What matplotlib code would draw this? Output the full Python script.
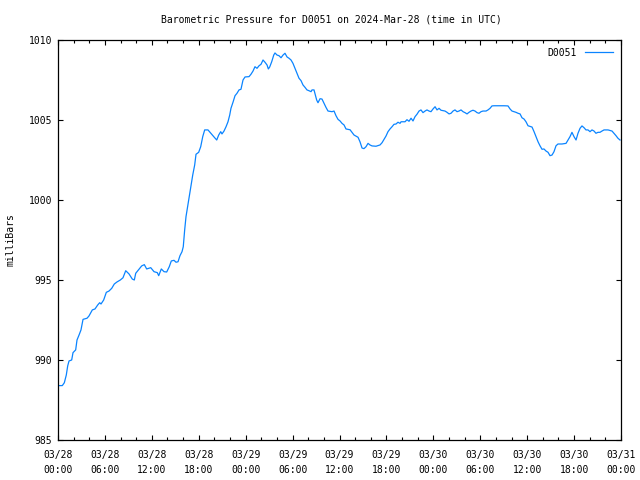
import matplotlib
matplotlib.use("Agg")
import matplotlib.pyplot as plt
import numpy as np

hours = [0.0, 0.55, 0.81, 1.06, 1.24, 1.41, 1.75, 1.92, 2.26, 2.43, 2.69, 2.94, 3.20, 3.71, 3.96,
         4.39, 4.73, 5.08, 5.33, 5.50, 5.84, 6.18, 6.52, 6.87, 7.20, 7.55, 7.97, 8.31, 8.66, 9.08,
         9.50, 9.76, 9.94, 10.36, 10.70, 11.04, 11.34, 11.86, 12.28, 12.70, 12.88, 13.21, 13.56,
         13.90, 14.23, 14.49, 14.84, 15.09, 15.35, 15.60, 15.86, 16.02, 16.20, 16.37, 16.54, 16.79,
         16.97, 17.23, 17.48, 17.65, 17.99, 18.25, 18.51, 18.76, 19.18, 19.61, 20.04, 20.30, 20.55,
         20.81, 20.97, 21.23, 21.49, 21.74, 21.96, 22.12, 22.38, 22.64, 22.89, 23.15, 23.40, 23.66,
         23.92, 24.43, 24.68, 24.94, 25.19, 25.45, 25.71, 25.96, 26.22, 26.47, 26.73, 26.90, 27.07,
         27.33, 27.59, 27.75, 28.01, 28.26, 28.52, 28.78, 29.03, 29.29, 29.54, 29.80, 30.05, 30.31,
         30.57, 30.82, 31.08, 31.33, 31.59, 31.84, 32.10, 32.36, 32.48, 32.74, 33.08, 33.25, 33.51,
         33.76, 34.02, 34.27, 34.53, 35.04, 35.30, 35.55, 35.81, 36.07, 36.32, 36.58, 36.83, 37.35,
         37.60, 37.86, 38.37, 38.62, 38.88, 39.13, 39.39, 39.65, 39.90, 40.16, 40.67, 41.18, 41.44,
         41.69, 41.95, 42.20, 42.46, 42.72, 42.97, 43.23, 43.48, 43.74, 43.87, 44.38, 44.63, 44.89,
         45.15, 45.40, 45.66, 45.91, 46.17, 46.42, 46.68, 46.94, 47.19, 47.45, 47.70, 47.96, 48.22,
         48.47, 48.73, 48.98, 49.49, 49.75, 50.01, 50.26, 50.52, 50.77, 51.03, 51.28, 51.54, 51.80,
         52.05, 52.31, 52.56, 52.82, 53.07, 53.33, 53.59, 53.84, 54.10, 54.35, 54.74, 54.99, 55.25,
         55.50, 55.76, 56.53, 57.04, 57.55, 57.81, 58.06, 58.57, 58.83, 59.09, 59.34, 59.60, 59.85,
         60.11, 60.62, 60.88, 61.13, 61.39, 61.64, 61.90, 62.15, 62.41, 62.67, 62.92, 63.18, 63.43,
         63.69, 63.94, 64.45, 64.97, 65.22, 65.48, 65.73, 65.99, 66.25, 66.50, 66.76, 67.01, 67.27,
         67.52, 67.78, 68.04, 68.29, 68.55, 68.80, 69.06, 69.31, 69.57, 69.83, 70.34, 70.85, 71.10,
         71.36, 71.61, 71.87]

pressure = [988.40, 988.40, 988.58, 989.06, 989.63, 989.94, 990.00, 990.46, 990.63, 991.25, 991.56,
            991.88, 992.54, 992.61, 992.75, 993.13, 993.19, 993.44, 993.58, 993.50, 993.75, 994.23,
            994.31, 994.48, 994.75, 994.88, 995.00, 995.14, 995.58, 995.38, 995.06, 995.00, 995.42,
            995.67, 995.88, 995.96, 995.69, 995.77, 995.52, 995.46, 995.27, 995.69, 995.52, 995.50,
            995.83, 996.19, 996.23, 996.11, 996.14, 996.52, 996.77, 997.08, 998.13, 998.96, 999.48,
            1000.21, 1000.83, 1001.56, 1002.19, 1002.86, 1002.98, 1003.33, 1003.96, 1004.38, 1004.38,
            1004.13, 1003.89, 1003.75, 1004.06, 1004.27, 1004.13, 1004.31, 1004.58, 1004.89, 1005.31,
            1005.73, 1006.11, 1006.52, 1006.67, 1006.88, 1006.92, 1007.50, 1007.69, 1007.71, 1007.86,
            1008.06, 1008.33, 1008.23, 1008.39, 1008.48, 1008.75, 1008.61, 1008.44, 1008.19, 1008.31,
            1008.64, 1009.06, 1009.19, 1009.06, 1009.02, 1008.89, 1009.06, 1009.17, 1008.94, 1008.86,
            1008.75, 1008.54, 1008.23, 1007.92, 1007.61, 1007.46, 1007.19, 1007.04, 1006.88, 1006.83,
            1006.77, 1006.88, 1006.88, 1006.25, 1006.08, 1006.33, 1006.31, 1006.04, 1005.79, 1005.56,
            1005.52, 1005.56, 1005.27, 1005.04, 1004.94, 1004.79, 1004.69, 1004.44, 1004.39, 1004.23,
            1004.06, 1003.92, 1003.64, 1003.25, 1003.21, 1003.33, 1003.54, 1003.44, 1003.38, 1003.36,
            1003.44, 1003.58, 1003.79, 1004.00, 1004.27, 1004.44, 1004.58, 1004.73, 1004.75, 1004.86,
            1004.79, 1004.89, 1004.89, 1005.02, 1004.92, 1005.11, 1004.94, 1005.21, 1005.36, 1005.56,
            1005.63, 1005.46, 1005.56, 1005.63, 1005.56, 1005.52, 1005.69, 1005.83, 1005.63, 1005.73,
            1005.61, 1005.56, 1005.48, 1005.38, 1005.42, 1005.56, 1005.63, 1005.52, 1005.56, 1005.63,
            1005.52, 1005.46, 1005.38, 1005.48, 1005.56, 1005.61, 1005.56, 1005.46, 1005.42, 1005.52,
            1005.56, 1005.56, 1005.63, 1005.73, 1005.88, 1005.89, 1005.89, 1005.89, 1005.88, 1005.69,
            1005.56, 1005.48, 1005.42, 1005.38, 1005.14, 1005.06, 1004.89, 1004.64, 1004.56, 1004.27,
            1003.96, 1003.64, 1003.39, 1003.17, 1003.19, 1003.06, 1002.98, 1002.77, 1002.81, 1003.02,
            1003.39, 1003.50, 1003.50, 1003.54, 1003.75, 1003.96, 1004.23, 1003.96, 1003.75, 1004.17,
            1004.48, 1004.63, 1004.52, 1004.38, 1004.38, 1004.27, 1004.38, 1004.31, 1004.17, 1004.23,
            1004.23, 1004.31, 1004.38, 1004.38, 1004.31, 1004.17, 1004.02, 1003.86, 1003.75]

tick_hours = [0, 6, 12, 18, 24, 30, 36, 42, 48, 54, 60, 66, 72]
tick_labels = ["03/28\n00:00", "03/28\n06:00", "03/28\n12:00", "03/28\n18:00",
               "03/29\n00:00", "03/29\n06:00", "03/29\n12:00", "03/29\n18:00",
               "03/30\n00:00", "03/30\n06:00", "03/30\n12:00", "03/30\n18:00",
               "03/31\n00:00"]
y_ticks = [985, 990, 995, 1000, 1005, 1010]
title = "Barometric Pressure for D0051 on 2024-Mar-28 (time in UTC)"
series_name = "D0051"

plt.rcParams['font.family'] = ['DejaVu Sans Mono']
plt.rcParams['font.size'] = 7

fig = plt.figure(figsize=(6.4, 4.8), dpi=100)
ax = fig.add_axes([58/640, 1-440/480, (621-58)/640, 400/480])
ax.plot(hours, pressure, color='#0a84ff', lw=0.9, label=series_name)
ax.set_xlim(0, 72)
ax.set_ylim(985, 1010)
ax.set_xticks(tick_hours)
ax.set_xticklabels(tick_labels, linespacing=1.7)
ax.set_xticks(np.arange(0, 73, 2), minor=True)
ax.set_yticks(y_ticks)
ax.set_yticklabels([str(v) for v in y_ticks])
ax.tick_params(which='major', direction='in', length=3.5, width=0.8, top=True, right=True, pad=4)
ax.tick_params(axis='x', which='major', pad=7)
ax.tick_params(which='minor', direction='in', length=2, width=0.8, top=True, right=True)
for s in ax.spines.values():
    s.set_linewidth(0.9)
ax.set_ylabel("milliBars", labelpad=10)
fig.text(331/640, 1-19/480, title, ha='center', va='center')
leg = ax.legend(loc='upper right', frameon=False, handlelength=2.9, handletextpad=0.9,
                borderaxespad=0.6, markerfirst=False, borderpad=0.2)
fig.savefig("out.png", dpi=100)
